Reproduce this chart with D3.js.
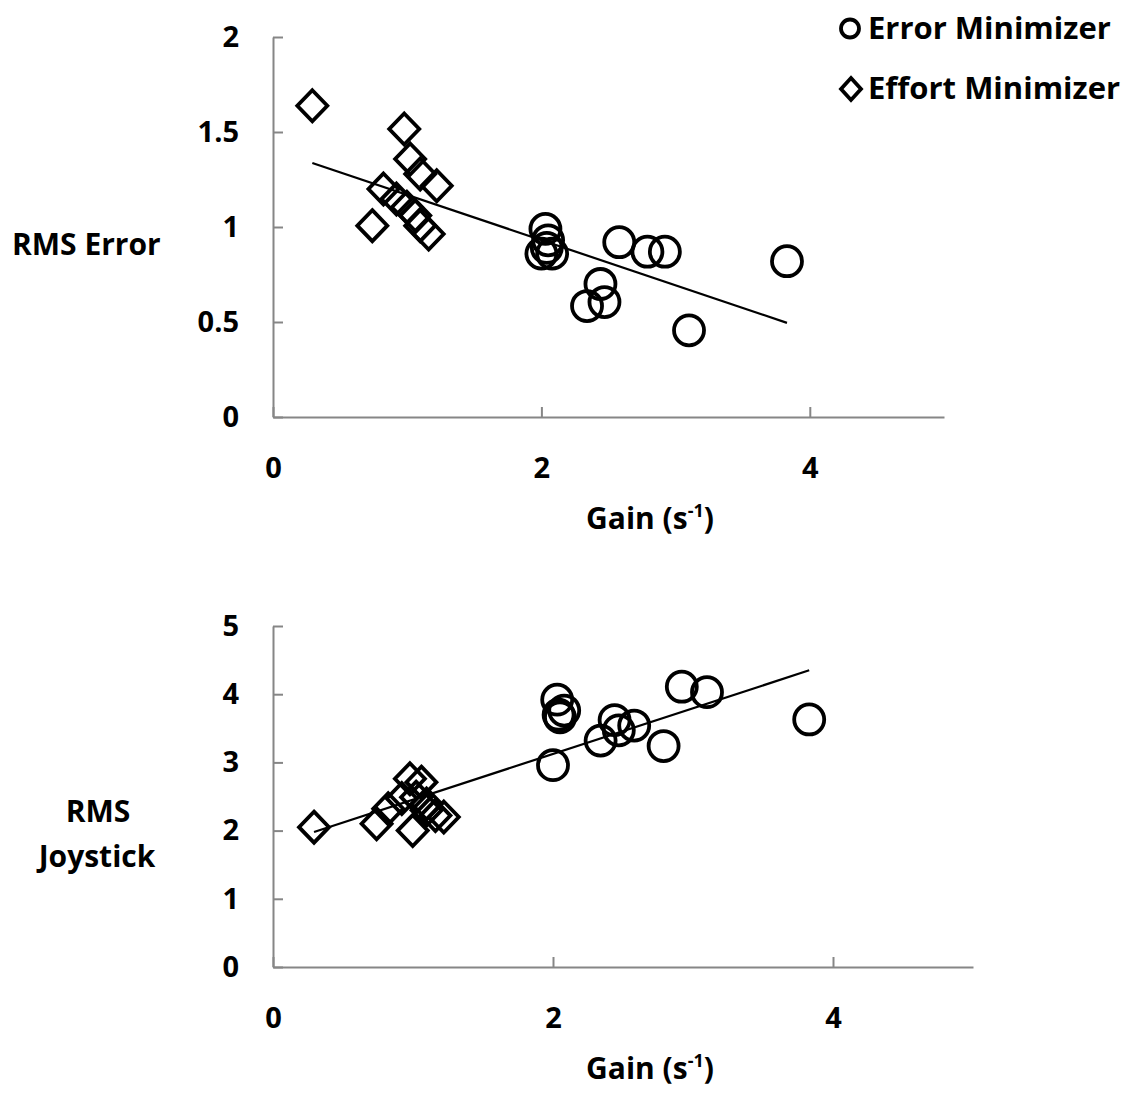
<!DOCTYPE html>
<html>
<head>
<meta charset="utf-8">
<script src="https://cdn.jsdelivr.net/npm/d3@7"></script>
<style>
  html, body { margin: 0; padding: 0; background: #fff; }
  text { font-family: "Open Sans", Lato, sans-serif; font-weight: 700; fill: #000; }
</style>
</head>
<body>
<svg id="chart" width="1136" height="1093"></svg>
<script>
// ---- Data ----
// Effort minimizers (diamonds)
const effortGain      = [0.293, 0.978, 1.022, 1.097, 1.22, 0.823, 0.92, 0.998, 1.06, 1.097, 1.16, 0.74];
const effortRmsError  = [1.638, 1.516, 1.358, 1.279, 1.217, 1.20, 1.147, 1.104, 1.06, 1.007, 0.963, 1.007];
const effortRmsJoy    = [2.05, 2.76, 2.49, 2.39, 2.20, 2.32, 2.47, 2.00, 2.71, 2.30, 2.22, 2.10];
// Error minimizers (circles)
const errorGain       = [2.03, 2.05, 2.00, 2.08, 2.04, 2.58, 2.79, 2.92, 2.44, 2.47, 2.34, 3.10, 3.83];
const errorRmsError   = [0.99, 0.93, 0.86, 0.86, 0.89, 0.92, 0.87, 0.87, 0.70, 0.605, 0.584, 0.456, 0.82];
const errorRmsJoy     = [3.92, 3.66, 2.96, 3.76, 3.70, 3.54, 3.24, 4.11, 3.62, 3.47, 3.32, 4.03, 3.63];
// Linear trend lines [intercept, slope]
const trendRmsError = [1.407, -0.238];
const trendRmsJoy   = [1.784, 0.670];
// Ticks
const xTicks = [0, 2, 4];
const yTicksTop = [0, 0.5, 1, 1.5, 2];
const yTicksBottom = [0, 1, 2, 3, 4, 5];
const legendLabels = ["Error Minimizer", "Effort Minimizer"];

const svg = d3.select("#chart");
const AXIS_COLOR = "#868686";
const FONT = "'Open Sans', Lato, sans-serif";

const circleR = 15, diamondW = 15, diamondH = 15.5, markStroke = 3.8;

function drawPanel(cfg) {
  const g = svg.append("g");
  const x = d3.scaleLinear().domain([0, 5]).range(cfg.xRange);
  const y = d3.scaleLinear().domain(cfg.yDomain).range(cfg.yRange);

  const yAxis = d3.axisLeft(y).tickValues(cfg.yTicks).tickSizeInner(-10).tickSizeOuter(0)
    .tickPadding(34).tickFormat(d3.format("~g"));
  const xAxis = d3.axisBottom(x).tickValues(xTicks).tickSizeInner(-10).tickSizeOuter(0)
    .tickPadding(40).tickFormat(d3.format("~g"));

  const ga = g.append("g").attr("transform", `translate(${cfg.xRange[0]},0)`).call(yAxis);
  const gb = g.append("g").attr("transform", `translate(0,${cfg.yRange[0]})`).call(xAxis);
  [ga, gb].forEach(a => {
    a.select(".domain").attr("stroke", AXIS_COLOR).attr("stroke-width", 2);
    a.selectAll(".tick line").attr("stroke", AXIS_COLOR).attr("stroke-width", 2);
    a.selectAll(".tick text").style("font-family", FONT)
      .style("font-weight", 700).style("font-size", "29px").attr("fill", "#000");
  });
  // trend line
  const gx = cfg.gains;
  const x0 = d3.min(gx), x1 = d3.max(gx);
  const f = v => cfg.trend[0] + cfg.trend[1] * v;
  g.append("line")
    .attr("x1", x(x0)).attr("y1", y(f(x0)))
    .attr("x2", x(x1)).attr("y2", y(f(x1)))
    .attr("stroke", "#000").attr("stroke-width", 2.2);

  // diamonds
  const diamonds = effortGain.map((d, i) => ({ gx: d, v: cfg.effortVals[i] }));
  g.selectAll("path.dia").data(diamonds).enter().append("path")
    .attr("class", "dia")
    .attr("d", d => {
      const cx = x(d.gx), cy = y(d.v);
      return `M${cx},${cy - diamondH}L${cx + diamondW},${cy}L${cx},${cy + diamondH}L${cx - diamondW},${cy}Z`;
    })
    .attr("fill", "none").attr("stroke", "#000").attr("stroke-width", markStroke)
    .attr("stroke-linejoin", "miter");

  // circles
  const circles = errorGain.map((d, i) => ({ gx: d, v: cfg.errorVals[i] }));
  g.selectAll("circle.err").data(circles).enter().append("circle")
    .attr("class", "err")
    .attr("cx", d => x(d.gx)).attr("cy", d => y(d.v)).attr("r", circleR)
    .attr("fill", "none").attr("stroke", "#000").attr("stroke-width", markStroke);

  // x title
  const t = g.append("text").attr("x", cfg.xTitle[0]).attr("y", cfg.xTitle[1])
    .attr("text-anchor", "middle").style("font-size", "30px");
  t.append("tspan").text("Gain (s");
  t.append("tspan").text("-1").style("font-size", "18px").attr("dy", -12);
  t.append("tspan").text(")").attr("dy", 12);
}

const allGains = effortGain.concat(errorGain);

drawPanel({
  xRange: [273, 944], yDomain: [0, 2], yRange: [417, 37], yTicks: yTicksTop,
  gains: allGains, trend: trendRmsError,
  effortVals: effortRmsError, errorVals: errorRmsError,
  xTitle: [650, 529]
});
drawPanel({
  xRange: [273, 973], yDomain: [0, 5], yRange: [967, 626], yTicks: yTicksBottom,
  gains: allGains, trend: trendRmsJoy,
  effortVals: effortRmsJoy, errorVals: errorRmsJoy,
  xTitle: [650, 1079]
});

// y axis titles
svg.append("text").attr("x", 12).attr("y", 255).style("font-size", "30px").text("RMS Error");
svg.append("text").attr("x", 98).attr("y", 822).attr("text-anchor", "middle").style("font-size", "30px").text("RMS");
svg.append("text").attr("x", 97).attr("y", 867).attr("text-anchor", "middle").style("font-size", "30px").text("Joystick");

// legend
const lg = svg.append("g");
lg.append("circle").attr("cx", 850).attr("cy", 28.5).attr("r", 9)
  .attr("fill", "none").attr("stroke", "#000").attr("stroke-width", 3.8);
lg.append("path").attr("d", "M851,78L861,89L851,100L841,89Z")
  .attr("fill", "none").attr("stroke", "#000").attr("stroke-width", 3.8);
lg.append("text").attr("x", 868).attr("y", 39).style("font-size", "31px").text(legendLabels[0]);
lg.append("text").attr("x", 868).attr("y", 99).style("font-size", "31px").text(legendLabels[1]);
</script>
</body>
</html>
